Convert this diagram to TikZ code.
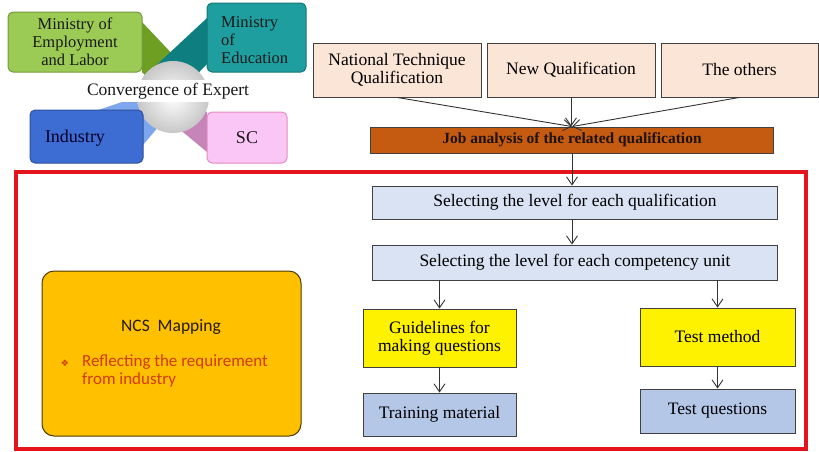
\documentclass[tikz,border=0pt]{standalone}
\usepackage{fontspec}
\setmainfont{Liberation Serif}
\newfontfamily\ncsfont{Carlito}
\newfontfamily\dejavu{DejaVu Sans}
\usetikzlibrary{arrows.meta}

\definecolor{peach}{HTML}{FBE5D6}
\definecolor{rust}{HTML}{C55A11}
\definecolor{paleblue}{HTML}{DAE3F3}
\definecolor{steelblue}{HTML}{B4C7E7}
\definecolor{amber}{HTML}{FFC000}
\definecolor{framered}{HTML}{E5131B}
\definecolor{textred}{HTML}{D23A08}
\definecolor{lgreen}{HTML}{9BCB55}
\definecolor{dgreen}{HTML}{6E9E22}
\definecolor{lteal}{HTML}{1E9E9E}
\definecolor{dteal}{HTML}{0E7E80}
\definecolor{indblue}{HTML}{3D6CD3}
\definecolor{armblue}{HTML}{7EA6EE}
\definecolor{pink}{HTML}{F9C6F5}
\definecolor{mauve}{HTML}{C585B8}

\begin{document}
\begin{tikzpicture}[x=1pt,y=-1pt,
  arr/.style={draw=black!80, line width=0.9pt, -{Straight Barb[length=8pt,width=11pt]}},
  flow/.style={draw=black!75, line width=0.9pt, inner sep=0pt, align=center,
    font=\fontsize{17.5}{17.5}\selectfont},
  topbox/.style={flow, fill=peach, minimum height=54pt},
  graybox/.style={flow, fill=paleblue, minimum width=405pt},
  yelbox/.style={flow, fill=yellow, minimum height=58pt},
  bluebox/.style={flow, fill=steelblue},
  tile/.style={rounded corners=5pt, line width=1pt},
  tiletext/.style={inner sep=0pt, align=center, text=black!90,
    font=\fontsize{16.5}{18}\selectfont},
]
\useasboundingbox (0,0) rectangle (819,451);

% ---- expert convergence graphic ----
\fill[dgreen] (142,22) -- (142,72) -- (170,102) -- (195,78) -- cycle;
\fill[dteal] (207,18) -- (207,64) -- (180,92) -- (148,73) -- cycle;
\fill[armblue] (98,110) -- (143,145) -- (176,106) -- (158,90) -- cycle;
\fill[mauve] (207,112) -- (207,152) -- (178,128) -- (192,102) -- cycle;
\shade[inner color=white, outer color=black!22] (173,97) circle[radius=36pt];
\fill[white] (84,80) rectangle (253,102);
\node[tiletext, font=\fontsize{17.5}{18}\selectfont] (conv) at (168,91) {Convergence of Expert};

\draw[tile, fill=lgreen, draw=lgreen!75!black] (8,12) rectangle (142,72);
\node[tiletext] (mel) at (75,42) {Ministry of\\Employment\\and Labor};
\draw[tile, fill=lteal, draw=lteal!75!black] (207,3) rectangle (306,72);
\node[tiletext, align=left, anchor=west] (moe) at (221,40) {Ministry\\of\\Education};
\draw[tile, fill=indblue, draw=indblue!75!black] (30,110) rectangle (143,163);
\node[tiletext, font=\fontsize{18}{18}\selectfont, text=black!85!blue] (ind) at (75,138) {Industry};
\draw[tile, fill=pink, draw=pink!70!purple] (207,112) rectangle (287,163);
\node[tiletext, font=\fontsize{18}{18}\selectfont] (sc) at (247,138) {SC};

% ---- red frame ----
\draw[framered, line width=3.5pt] (16,172) rectangle (806,449);

% ---- qualification sources ----
\node[topbox, minimum width=168pt] (ntq) at (397,70) {National Technique\\Qualification};
\node[topbox, minimum width=168pt] (newq) at (571,70) {New Qualification};
\node[topbox, minimum width=157pt] (others) at (739.5,70) {The others};

\node[flow, fill=rust, minimum width=403pt, minimum height=26pt,
      font=\fontsize{15.5}{15.5}\selectfont\bfseries, text=black!85!brown] (job) at (572,140)
      {Job analysis of the related qualification};

\draw[arr] (ntq.south) -- (job.north);
\draw[arr] (newq.south) -- (newq.south |- job.north);
\draw[arr] (others.south) -- (job.north);

% ---- level selection ----
\node[graybox, minimum height=33pt] (sel1) at (575,202.5) {Selecting the level for each qualification};
\node[graybox, minimum height=35pt] (sel2) at (575,262.5) {Selecting the level for each competency unit};

\draw[arr] (job.south) -- (job.south |- sel1.north);
\draw[arr] (sel1.south -| job.south) -- (job.south |- sel2.north);

% ---- outputs ----
\node[yelbox, minimum width=153pt] (guide) at (439.5,338) {Guidelines for\\making questions};
\node[yelbox, minimum width=155pt] (testm) at (717.5,337) {Test method};
\node[bluebox, minimum width=153pt, minimum height=43pt] (train) at (439.5,414.5) {Training material};
\node[bluebox, minimum width=155pt, minimum height=44pt] (testq) at (717.5,411) {Test questions};

\draw[arr] (guide.north |- sel2.south) -- (guide.north);
\draw[arr] (testm.north |- sel2.south) -- (testm.north);
\draw[arr] (guide.south) -- (train.north);
\draw[arr] (testm.south) -- (testq.north);

% ---- NCS mapping note ----
\draw[fill=amber, draw=black!70!amber, line width=1pt, rounded corners=12pt]
  (42,271) rectangle (301,436);
\node[inner sep=0pt, font=\ncsfont\fontsize{17.5}{17.5}\selectfont, text=black!85!amber] (ncs) at (171,327) {NCS\ \ Mapping};
\node[inner sep=0pt, font=\dejavu\fontsize{9}{9}\selectfont, text=textred] (bul) at (65,363) {❖};
\node[inner sep=0pt, anchor=west, align=left, text=textred,
      font=\ncsfont\fontsize{17}{18}\selectfont] (req) at (82,371)
      {Reflecting the requirement\\from industry};
\end{tikzpicture}
\end{document}
